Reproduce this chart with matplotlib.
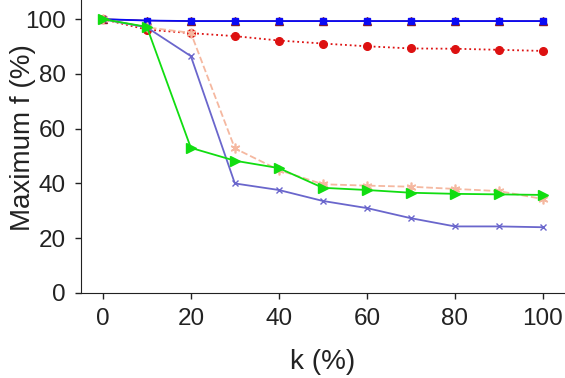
#!/usr/bin/env python3
"""Maximum f vs k for several methods."""
import matplotlib
matplotlib.use('Agg')
import matplotlib.pyplot as plt

k = [0, 10, 20, 30, 40, 50, 60, 70, 80, 90, 100]

f_brown = [100, 99.5, 99.3, 99.3, 99.3, 99.3, 99.3, 99.3, 99.3, 99.3, 99.3]
f_blue = [100, 99.5, 99.3, 99.3, 99.3, 99.3, 99.3, 99.3, 99.3, 99.3, 99.3]
f_red = [100, 96.2, 94.9, 93.8, 92.2, 91.1, 90.1, 89.3, 89.2, 88.8, 88.4]
f_peach = [100, 97.0, 95.0, 52.8, 44.9, 39.7, 39.2, 38.8, 38.0, 37.2, 34.3]
f_purple = [100, 97.0, 86.5, 40.0, 37.6, 33.6, 31.0, 27.3, 24.3, 24.3, 24.0]
f_green = [100, 97.2, 53.0, 48.3, 45.6, 38.4, 37.6, 36.6, 36.2, 36.0, 35.8]

x_ticks = [0, 20, 40, 60, 80, 100]
y_ticks = [0, 20, 40, 60, 80, 100]

plt.rcParams['font.family'] = ['Liberation Sans', 'DejaVu Sans']

fig = plt.figure(figsize=(5.65, 3.78), dpi=100)
ax = fig.add_axes([0.143, 0.225, 0.857, 0.775])

ax.plot(k, f_brown, color='#8b1a1a', marker='^', markersize=5.5, linewidth=1.0)
ax.plot(k, f_blue, color='#0a0af5', marker='s', markersize=5, linewidth=1.3)
ax.plot(k, f_red, color='#dd1111', marker='o', markersize=5.5, linewidth=1.3,
        linestyle=':')
# asterisk marker for the dashed series
ax.plot(k, f_peach, color='#f5b8a0', marker=(6, 2, 0), markersize=7,
        markeredgewidth=1.2, linewidth=1.3, linestyle='--')
ax.plot(k, f_purple, color='#6a66cc', marker='x', markersize=5, linewidth=1.3)
ax.plot(k, f_green, color='#11dd11', marker='>', markersize=6.5, linewidth=1.3)

ax.set_xlim(-5, 105)
ax.set_ylim(0, 107)
ax.set_xticks(x_ticks)
ax.set_yticks(y_ticks)
ax.tick_params(labelsize=17.5, direction='out', length=4, width=1, pad=7,
               colors='#222222')
ax.set_xlabel('k (%)', fontsize=20, color='#222222')
ax.set_ylabel('Maximum f (%)', fontsize=20, color='#222222')
ax.xaxis.set_label_coords(0.5, -0.19)
ax.yaxis.set_label_coords(-0.092, 0.53)

ax.spines['top'].set_visible(False)
ax.spines['right'].set_visible(False)
ax.spines['left'].set_color('#222222')
ax.spines['bottom'].set_color('#222222')

plt.savefig('out.png', dpi=100)
